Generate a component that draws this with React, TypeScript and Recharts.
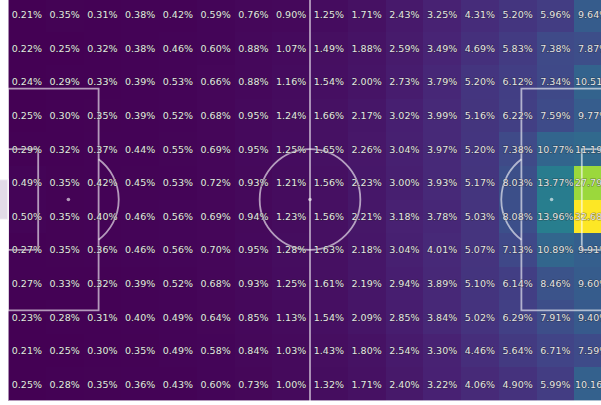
import React from 'react';
import { ScatterChart, Scatter, XAxis, YAxis, ReferenceArea, ReferenceLine, ReferenceDot } from 'recharts';

// Bin edges in pitch units (StatsBomb 120 x 80 pitch)
const xBinEdges = [0, 7.5, 15, 22.5, 30, 37.5, 45, 52.5, 60, 67.5, 75, 82.5, 90, 97.5, 105, 112.5, 120];
const yBinEdges = [0, 6.667, 13.333, 20, 26.667, 33.333, 40, 46.667, 53.333, 60, 66.667, 73.333, 80];

// Values (percent) per row, top to bottom, columns left to right
const row00 = [0.21, 0.35, 0.31, 0.38, 0.42, 0.59, 0.76, 0.90, 1.25, 1.71, 2.43, 3.25, 4.31, 5.20, 5.96, 9.64];
const row01 = [0.22, 0.25, 0.32, 0.38, 0.46, 0.60, 0.88, 1.07, 1.49, 1.88, 2.59, 3.49, 4.69, 5.83, 7.38, 7.87];
const row02 = [0.24, 0.29, 0.33, 0.39, 0.53, 0.66, 0.88, 1.16, 1.54, 2.00, 2.73, 3.79, 5.20, 6.12, 7.34, 10.51];
const row03 = [0.25, 0.30, 0.35, 0.39, 0.52, 0.68, 0.95, 1.24, 1.66, 2.17, 3.02, 3.99, 5.16, 6.22, 7.59, 9.77];
const row04 = [0.29, 0.32, 0.37, 0.44, 0.55, 0.69, 0.95, 1.25, 1.65, 2.26, 3.04, 3.97, 5.20, 7.38, 10.77, 11.19];
const row05 = [0.49, 0.35, 0.42, 0.45, 0.53, 0.72, 0.93, 1.21, 1.56, 2.23, 3.00, 3.93, 5.17, 8.03, 13.77, 27.79];
const row06 = [0.50, 0.35, 0.40, 0.46, 0.56, 0.69, 0.94, 1.23, 1.56, 2.21, 3.18, 3.78, 5.03, 8.08, 13.96, 32.68];
const row07 = [0.27, 0.35, 0.36, 0.46, 0.56, 0.70, 0.95, 1.28, 1.63, 2.18, 3.04, 4.01, 5.07, 7.13, 10.89, 9.91];
const row08 = [0.27, 0.33, 0.32, 0.39, 0.52, 0.68, 0.93, 1.25, 1.61, 2.19, 2.94, 3.89, 5.10, 6.14, 8.46, 9.60];
const row09 = [0.23, 0.28, 0.31, 0.40, 0.49, 0.64, 0.85, 1.13, 1.54, 2.09, 2.85, 3.84, 5.02, 6.29, 7.91, 9.40];
const row10 = [0.21, 0.25, 0.30, 0.35, 0.49, 0.58, 0.84, 1.03, 1.43, 1.80, 2.54, 3.30, 4.46, 5.64, 6.71, 7.59];
const row11 = [0.25, 0.28, 0.35, 0.36, 0.43, 0.60, 0.73, 1.00, 1.32, 1.71, 2.40, 3.22, 4.06, 4.90, 5.99, 10.16];

const rows = [row00, row01, row02, row03, row04, row05, row06, row07, row08, row09, row10, row11];

const PITCH_LENGTH = 120;
const PITCH_WIDTH = 80;
const PLOT_W = 604;
const PLOT_H = 403;
const MARGIN = { top: 5, right: 10, bottom: 10, left: 8 };
const PX = PLOT_W / PITCH_LENGTH;

const VIRIDIS = ['#440154', '#482475', '#414487', '#355f8d', '#2a788e', '#21918c', '#22a884', '#44bf70', '#7ad151', '#bddf26', '#fde725'];

function hexToRgb(h: string) {
  return [parseInt(h.slice(1, 3), 16), parseInt(h.slice(3, 5), 16), parseInt(h.slice(5, 7), 16)];
}
function viridis(t: number) {
  const tt = Math.max(0, Math.min(1, t)) * (VIRIDIS.length - 1);
  const i = Math.min(VIRIDIS.length - 2, Math.floor(tt));
  const f = tt - i;
  const a = hexToRgb(VIRIDIS[i]);
  const b = hexToRgb(VIRIDIS[i + 1]);
  const c = a.map((v, k) => Math.round(v + (b[k] - v) * f));
  return `rgb(${c[0]},${c[1]},${c[2]})`;
}

const allVals = rows.flat();
const vmin = Math.min(...allVals);
const vmax = Math.max(...allVals);

const cells = rows.flatMap((vals, r) =>
  vals.map((v, c) => ({
    x: (xBinEdges[c] + xBinEdges[c + 1]) / 2,
    y: (yBinEdges[r] + yBinEdges[r + 1]) / 2,
    x1: xBinEdges[c],
    x2: xBinEdges[c + 1],
    y1: yBinEdges[r],
    y2: yBinEdges[r + 1],
    v,
    color: viridis((v - vmin) / (vmax - vmin)),
  }))
);

const LC = 'rgba(255,255,255,0.6)';
const LW = 1.8;

const LabelShape = (props: any) => {
  const { cx, cy, payload } = props;
  return (
    <text
      x={cx}
      y={cy}
      textAnchor="middle"
      dominantBaseline="central"
      fontFamily="DejaVu Sans"
      fontSize={9.5}
      fill="#e6e6e6"
      stroke="rgba(30,30,30,0.45)"
      strokeWidth={1.2}
      paintOrder="stroke"
    >
      {`${payload.v.toFixed(2)}%`}
    </text>
  );
};

const arcShape = (side: 'left' | 'right') => (props: any) => {
  const { cx, cy } = props;
  const r = 10 * PX;
  const ang = Math.acos(6 / 10);
  const dir = side === 'left' ? 1 : -1;
  const x0 = cx + dir * r * Math.cos(ang);
  const yTop = cy - r * Math.sin(ang);
  const yBot = cy + r * Math.sin(ang);
  const sweep = side === 'left' ? 1 : 0;
  return <path d={`M${x0},${yTop} A${r},${r} 0 0 ${sweep} ${x0},${yBot}`} fill="none" stroke={LC} strokeWidth={LW} />;
};

const circleShape = (props: any) => {
  const { cx, cy } = props;
  return <circle cx={cx} cy={cy} r={10 * PX} fill="none" stroke={LC} strokeWidth={LW} />;
};

const spotShape = (props: any) => {
  const { cx, cy } = props;
  return <circle cx={cx} cy={cy} r={1.8} fill={LC} />;
};

const box = (x1: number, x2: number, y1: number, y2: number, key: string) => (
  <ReferenceArea
    key={key}
    x1={x1}
    x2={x2}
    y1={y1}
    y2={y2}
    fill="none"
    fillOpacity={0}
    stroke={LC}
    strokeWidth={LW}
    ifOverflow="visible"
  />
);

export default function App() {
  return (
    <div style={{ position: 'fixed', left: 0, top: 0, width: 601, height: 405, overflow: 'hidden', background: '#ffffff' }}>
      <div style={{ position: 'absolute', left: 0, top: -7 }}>
        <ScatterChart
          width={PLOT_W + MARGIN.left + MARGIN.right}
          height={PLOT_H + MARGIN.top + MARGIN.bottom}
          margin={MARGIN}
        >
          <XAxis type="number" dataKey="x" domain={[0, PITCH_LENGTH]} hide allowDataOverflow />
          <YAxis type="number" dataKey="y" domain={[0, PITCH_WIDTH]} reversed hide allowDataOverflow />
          {cells.map((c, i) => (
            <ReferenceArea
              key={`cell-${i}`}
              x1={c.x1}
              x2={c.x2}
              y1={c.y1}
              y2={c.y2}
              fill={c.color}
              fillOpacity={1}
              stroke="none"
              shapeRendering="crispEdges"
              ifOverflow="visible"
            />
          ))}
          {box(0, PITCH_LENGTH, 0, PITCH_WIDTH, 'outline')}
          {box(0, 18, 18, 62, 'pa-left')}
          {box(0, 6, 30, 50, 'six-left')}
          {box(102, 120, 18, 62, 'pa-right')}
          {box(114, 120, 30, 50, 'six-right')}
          <ReferenceArea x1={-2.4} x2={0} y1={36} y2={44} fill="#e2dbe8" fillOpacity={1} stroke={LC} strokeWidth={LW} ifOverflow="visible" />
          <ReferenceArea x1={120} x2={122.4} y1={36} y2={44} fill="#e2dbe8" fillOpacity={1} stroke={LC} strokeWidth={LW} ifOverflow="visible" />
          <ReferenceLine x={60} stroke={LC} strokeWidth={LW} ifOverflow="visible" />
          <ReferenceDot x={60} y={40} r={10 * PX} shape={circleShape} ifOverflow="visible" />
          <ReferenceDot x={60} y={40} r={1.8} shape={spotShape} ifOverflow="visible" />
          <ReferenceDot x={12} y={40} r={1.8} shape={spotShape} ifOverflow="visible" />
          <ReferenceDot x={108} y={40} r={1.8} shape={spotShape} ifOverflow="visible" />
          <ReferenceDot x={12} y={40} r={10 * PX} shape={arcShape('left')} ifOverflow="visible" />
          <ReferenceDot x={108} y={40} r={10 * PX} shape={arcShape('right')} ifOverflow="visible" />
          <Scatter data={cells} isAnimationActive={false} shape={LabelShape} />
        </ScatterChart>
      </div>
    </div>
  );
}
